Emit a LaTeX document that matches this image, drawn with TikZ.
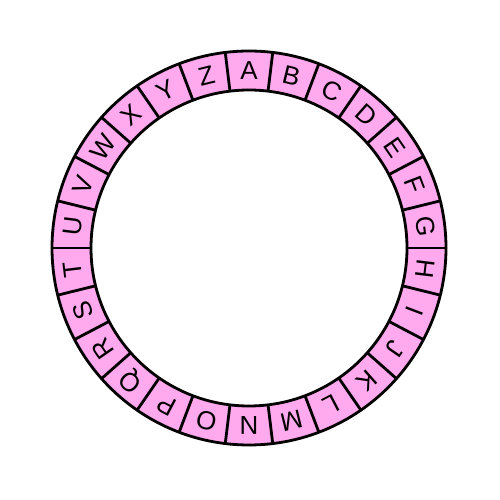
\documentclass[tikz,border=0pt]{standalone}
\usepackage{fontspec}
\setmainfont{Liberation Sans}
\usetikzlibrary{calc}
\definecolor{ringpink}{RGB}{255,170,238}
\begin{document}
\begin{tikzpicture}[x=1pt,y=1pt,
  ringline/.style={line width=2.8pt},
  letter/.style={font=\fontsize{26}{26}\selectfont, inner sep=0pt}]
\useasboundingbox (0,0) rectangle (500,500);
\coordinate (c) at (249,252);
\fill[ringpink, even odd rule] (c) circle (197) (c) circle (158);
\foreach \i in {0,...,25}
  \draw[ringline] (c) ++({90+360/52-\i*360/26}:158) -- ++({90+360/52-\i*360/26}:39);
\draw[ringline] (c) circle (197) (c) circle (158);
\foreach \l [count=\i from 0] in {A,B,C,D,E,F,G,H,I,J,K,L,M,N,O,P,Q,R,S,T,U,V,W,X,Y,Z}
  \node[letter, rotate={-\i*360/26}] (L\l) at ($(c)+({90-\i*360/26}:177.5)$) {\l};
\end{tikzpicture}
\end{document}
